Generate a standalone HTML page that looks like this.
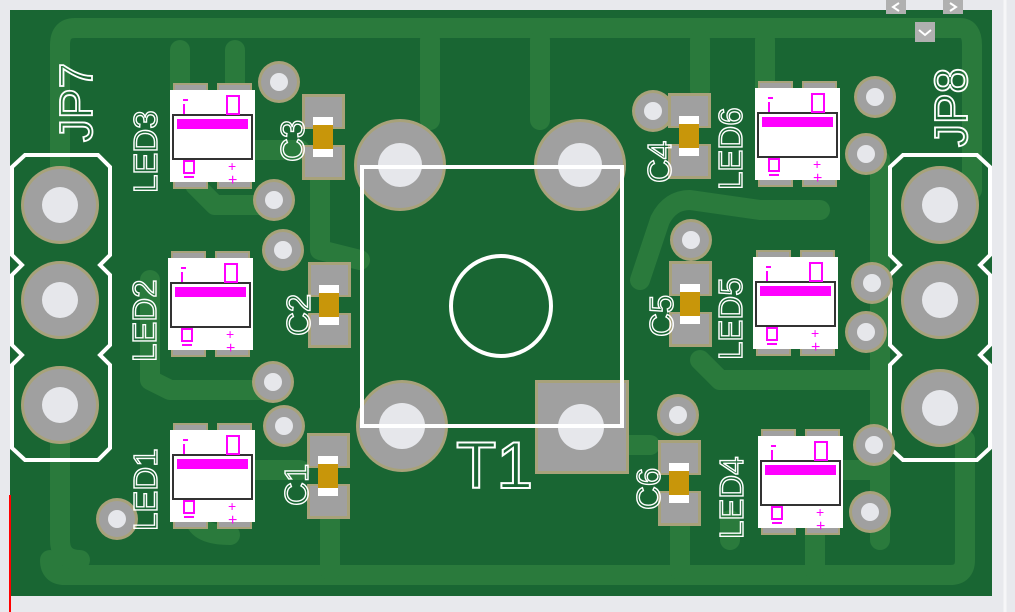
<!DOCTYPE html>
<html><head><meta charset="utf-8"><style>
html,body{margin:0;padding:0;background:#e8e9ed;}
svg{display:block;font-family:"Liberation Sans",sans-serif;}
</style></head><body>
<svg width="1015" height="612" viewBox="0 0 1015 612" xmlns="http://www.w3.org/2000/svg">
<defs>
<g id="via"><circle r="21" fill="#a8a27a"/><circle r="18" fill="#a0a0a0"/><circle r="9" fill="#e6e7eb"/></g>
<g id="jpad"><circle r="39" fill="#a8a27a"/><circle r="36" fill="#a0a0a0"/><circle r="18" fill="#e6e7eb"/></g>
<g id="led">
<rect x="3" y="-7" width="35" height="12" fill="#a8a27a"/><rect x="5" y="-5" width="31" height="10" fill="#a0a0a0"/>
<rect x="47" y="-7" width="35" height="12" fill="#a8a27a"/><rect x="49" y="-5" width="31" height="10" fill="#a0a0a0"/>
<rect x="3" y="87" width="35" height="12" fill="#a8a27a"/><rect x="5" y="87" width="31" height="10" fill="#a0a0a0"/>
<rect x="47" y="87" width="35" height="12" fill="#a8a27a"/><rect x="49" y="87" width="31" height="10" fill="#a0a0a0"/>
<rect x="0" y="0" width="85" height="92" fill="#fff"/>
<rect x="3" y="25" width="79" height="44" fill="#fff" stroke="#333" stroke-width="2"/>
<rect x="7" y="29" width="71" height="10" fill="#ff00ff"/>
<rect x="13" y="9" width="5" height="2" fill="#f0f"/><rect x="13" y="14" width="2" height="10" fill="#f0f"/>
<rect x="57" y="6" width="12" height="18" fill="none" stroke="#f0f" stroke-width="2"/>
<rect x="14" y="71" width="10" height="12" fill="none" stroke="#f0f" stroke-width="2"/>
<rect x="14" y="86" width="10" height="2" fill="#f0f"/>
<text x="58" y="81" font-size="14" fill="#f0f">+</text>
<text x="58" y="95" font-size="16" fill="#f0f">+</text>
</g>
<g id="cap">
<rect x="0" y="0" width="43" height="35" fill="#a8a27a"/><rect x="3" y="3" width="37" height="30" fill="#a0a0a0"/>
<rect x="0" y="51" width="43" height="35" fill="#a8a27a"/><rect x="3" y="53" width="37" height="30" fill="#a0a0a0"/>
<rect x="11" y="23" width="20" height="40" fill="#c8960a"/>
<rect x="11" y="23" width="20" height="8" fill="#fff"/><rect x="11" y="55" width="20" height="8" fill="#fff"/>
</g>
</defs>
<rect x="0" y="0" width="1015" height="612" fill="#e8e9ed"/>
<line x1="1005" y1="0" x2="1005" y2="612" stroke="#f6f6f8" stroke-width="3"/>
<rect x="10" y="10" width="982" height="586" fill="#196633"/>
<!-- traces -->
<g fill="none" stroke="#2a7a3c" stroke-width="20" stroke-linejoin="round" stroke-linecap="round">
<path d="M60 200 V45 Q60 28 75 28 H960 Q972 28 972 45 V190"/>
<path d="M50 560 Q50 575 65 575 H950 Q965 575 965 560 V440"/>
<path d="M60 400 V540 Q60 560 80 560"/>
<path d="M150 280 V380 L170 390 H260"/>
<path d="M180 50 V90 M235 50 V90 M430 40 V120 M540 40 V120 M700 40 V90 M765 40 V90"/>
<path d="M195 185 L215 205 H260 M320 180 V250 L360 260"/>
<path d="M195 520 Q200 535 230 535 M330 520 V570 M680 525 V570 M815 530 V570"/>
<path d="M640 280 L660 220 Q670 200 690 200 L760 210 H820"/>
<path d="M700 360 L720 380 H880 M730 520 V540"/>
<path d="M240 150 L300 150 M250 470 H300 M610 445 H650 M840 470 H870"/>
<path d="M880 160 V540"/>
</g>
<!-- connectors -->
<path d="M25 155 H98 L110 167 V255 L100 265 L110 275 V345 L100 355 L110 365 V448 L98 460 H25 L12 448 V365 L22 355 L12 345 V275 L22 265 L12 255 V167 Z" fill="none" stroke="#fff" stroke-width="4"/>
<path d="M903 155 H977 L990 167 V255 L980 265 L990 275 V345 L980 355 L990 365 V448 L977 460 H903 L890 448 V365 L900 355 L890 345 V275 L900 265 L890 255 V167 Z" fill="none" stroke="#fff" stroke-width="4"/>
<use href="#jpad" x="60" y="205"/><use href="#jpad" x="60" y="300"/><use href="#jpad" x="60" y="405"/>
<use href="#jpad" x="940" y="205"/><use href="#jpad" x="940" y="300"/><use href="#jpad" x="940" y="408"/>
<!-- T1 -->
<g><circle cx="400" cy="165" r="46" fill="#a8a27a"/><circle cx="400" cy="165" r="43" fill="#a0a0a0"/><circle cx="400" cy="165" r="22" fill="#e6e7eb"/></g>
<g><circle cx="580" cy="165" r="46" fill="#a8a27a"/><circle cx="580" cy="165" r="43" fill="#a0a0a0"/><circle cx="580" cy="165" r="22" fill="#e6e7eb"/></g>
<g><circle cx="402" cy="426" r="46" fill="#a8a27a"/><circle cx="402" cy="426" r="43" fill="#a0a0a0"/><circle cx="402" cy="426" r="23" fill="#e6e7eb"/></g>
<rect x="535" y="380" width="94" height="94" fill="#a8a27a"/><rect x="538" y="383" width="88" height="88" fill="#a0a0a0"/>
<circle cx="581" cy="427" r="23" fill="#e6e7eb"/>
<rect x="362" y="167" width="260" height="259" fill="none" stroke="#fff" stroke-width="4"/>
<circle cx="501" cy="306" r="50" fill="none" stroke="#fff" stroke-width="4"/>
<text x="456" y="488" font-size="66" fill="none" stroke="#fff" stroke-width="2">T1</text>
<!-- vias -->
<use href="#via" x="279" y="82"/><use href="#via" x="274" y="200"/><use href="#via" x="283" y="250"/>
<use href="#via" x="273" y="382"/><use href="#via" x="284" y="426"/><use href="#via" x="117" y="519"/>
<use href="#via" x="653" y="111"/><use href="#via" x="875" y="97"/><use href="#via" x="866" y="154"/>
<use href="#via" x="691" y="240"/><use href="#via" x="872" y="283"/><use href="#via" x="866" y="332"/>
<use href="#via" x="678" y="415"/><use href="#via" x="874" y="445"/><use href="#via" x="870" y="512"/>
<!-- caps -->
<use href="#cap" x="302" y="94"/><use href="#cap" x="308" y="262"/><use href="#cap" x="307" y="433"/>
<use href="#cap" x="668" y="93"/><use href="#cap" x="669" y="261"/><use href="#cap" x="658" y="440"/>
<!-- LEDs -->
<use href="#led" x="170" y="90"/><use href="#led" x="168" y="258"/><use href="#led" x="170" y="430"/>
<use href="#led" x="755" y="88"/><use href="#led" x="753" y="257"/><use href="#led" x="758" y="436"/>
<!-- labels -->
<g fill="none" stroke="#fff" stroke-width="1.8" font-size="46">
<text transform="translate(92,142) rotate(-90)">JP7</text>
<text transform="translate(967,147) rotate(-90)">JP8</text>
</g>
<g fill="none" stroke="#fff" stroke-width="1.4" font-size="33">
<text transform="translate(157,193) rotate(-90)">LED3</text>
<text transform="translate(156,362) rotate(-90)">LED2</text>
<text transform="translate(157,531) rotate(-90)">LED1</text>
<text transform="translate(742,190) rotate(-90)">LED6</text>
<text transform="translate(742,360) rotate(-90)">LED5</text>
<text transform="translate(743,539) rotate(-90)">LED4</text>
<text transform="translate(304,162) rotate(-90)">C3</text>
<text transform="translate(310,336) rotate(-90)">C2</text>
<text transform="translate(308,506) rotate(-90)">C1</text>
<text transform="translate(671,183) rotate(-90)">C4</text>
<text transform="translate(673,337) rotate(-90)">C5</text>
<text transform="translate(660,510) rotate(-90)">C6</text>
</g>
<!-- UI bits -->
<rect x="886" y="0" width="20" height="14" fill="#b0b0b0"/><rect x="943" y="0" width="20" height="14" fill="#b0b0b0"/>
<rect x="915" y="22" width="20" height="20" fill="#b0b0b0"/>
<path d="M899 3 L893 7 L899 11 M950 3 L956 7 L950 11 M919 30 L925 35 L931 30" fill="none" stroke="#fff" stroke-width="2"/>
<line x1="10" y1="495" x2="10" y2="612" stroke="#f00" stroke-width="2"/>
</svg>
</body></html>
